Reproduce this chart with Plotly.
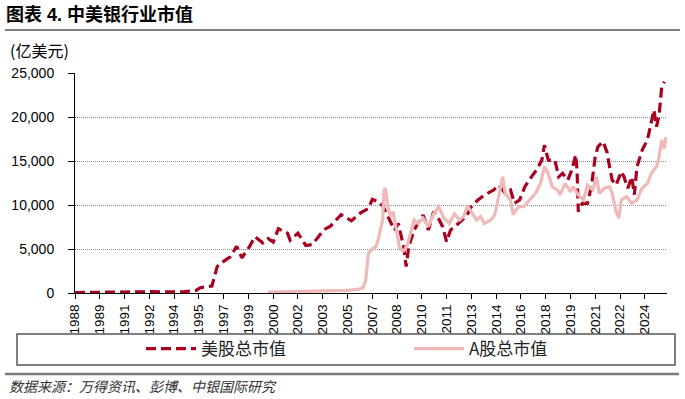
import plotly.graph_objects as go

# ---------------- data ----------------
us_dates = ["1988-01","1989-01","1990-01","1991-01","1992-01","1993-01","1994-01","1995-01","1995-10",
            "1996-01","1996-10","1997-02","1997-07","1997-12","1998-05","1998-09","1999-03","1999-07",
            "2000-01","2000-05","2000-09","2001-01","2001-08","2001-10","2002-04","2002-10","2003-03",
            "2003-12","2004-05","2005-01","2005-09","2006-04","2006-10","2007-01","2007-05","2007-09",
            "2008-01","2008-06","2008-09","2009-01","2009-03","2009-05","2009-09","2010-04","2010-08",
            "2010-12","2011-03","2011-07","2011-10","2012-01","2012-07","2013-01","2013-05","2013-10",
            "2014-03","2014-10","2015-02","2015-07","2015-11","2016-02","2016-06","2016-10","2017-04",
            "2017-07","2017-11","2018-01","2018-04","2018-09","2018-12","2019-03","2019-07","2019-10",
            "2020-01","2020-02","2020-03","2020-06","2020-10","2021-01","2021-04","2021-06","2021-10",
            "2022-01","2022-03","2022-05","2022-08","2022-12","2023-02","2023-05","2023-08","2023-10",
            "2023-12","2024-04","2024-08","2024-11","2025-01","2025-03","2025-05","2025-07","2025-09"]
us_values = [50,80,60,80,120,150,130,150,300,
             600,800,3000,3600,4100,5300,4000,5300,6400,
             5700,6200,5800,7300,6800,6000,6800,5400,5500,
             7200,7600,8900,8200,9100,9600,10650,10400,9900,
             8700,7150,7900,5260,3000,5260,7150,8860,7150,
             9240,8700,7540,5830,7150,7900,8700,9800,10570,
             11140,11700,12270,11330,11700,10190,10570,12080,13400,
             13980,15100,16800,15100,15100,13200,13600,12840,13980,
             15700,13980,9240,10190,10190,12080,15500,16600,17200,
             16000,14350,12840,12270,13800,13200,11900,13200,11170,
             14350,16250,17400,19470,20800,18900,20200,23440,24000]

a_dates = ["2000-05","2001-06","2002-06","2003-06","2004-06","2005-06","2006-03","2006-06","2006-08",
           "2006-10","2007-01","2007-04","2007-06","2007-09","2007-10","2007-11","2008-01","2008-03",
           "2008-05","2008-08","2008-10","2009-01","2009-04","2009-07","2009-09","2009-12","2010-04",
           "2010-08","2010-12","2011-04","2011-08","2011-12","2012-04","2012-08","2012-11","2013-02",
           "2013-06","2013-09","2013-12","2014-03","2014-08","2014-11","2015-03","2015-05","2015-07",
           "2015-11","2016-01","2016-05","2016-09","2017-02","2017-06","2017-10","2018-01","2018-04",
           "2018-07","2018-11","2019-01","2019-05","2019-09","2019-11","2020-03","2020-07","2020-10",
           "2021-02","2021-05","2021-07","2021-11","2022-03","2022-05","2022-08","2022-10","2022-12",
           "2023-04","2023-08","2023-12","2024-04","2024-08","2024-11","2025-03","2025-05","2025-07",
           "2025-09","2025-10"]
a_values = [100,150,180,200,250,300,450,600,1500,
            4500,5000,5300,6400,8300,11700,11900,9800,8700,
            9240,6780,5000,4800,5500,7150,8300,7900,8500,
            7540,9000,9800,8500,7900,9000,8300,8700,9900,
            9000,8300,8700,7900,8300,8900,11700,13200,11300,
            10570,8900,9800,9800,10570,11300,12460,14350,13600,
            12080,11700,11140,12460,11500,12080,11140,10570,12270,
            11700,13200,11330,11900,12080,11330,9240,8500,10570,
            10950,10190,10570,11900,12460,13600,14350,15500,17400,
            16400,17700]

tick_dates = ["1988-01","1989-08","1991-03","1992-10","1994-05","1995-12","1997-07","1999-02",
              "2000-09","2002-04","2003-11","2005-06","2007-01","2008-08","2010-03","2011-10",
              "2013-05","2014-12","2016-07","2018-02","2019-09","2021-04","2022-11","2024-06"]
tick_labels = ["1988","1989","1991","1992","1994","1995","1997","1999","2000","2002","2003","2005",
               "2007","2008","2010","2011","2013","2014","2016","2018","2019","2021","2022","2024"]

y_ticks = [0, 5000, 10000, 15000, 20000, 25000]

series_names = ["美股总市值", "A股总市值"]
title_text = "<b>图表 4. 中美银行业市值</b>"
unit_text = "(亿美元)"
source_text = "<i>数据来源：万得资讯、彭博、中银国际研究</i>"

# ---------------- figure ----------------
W, H = 685, 399
L, R, T, B = 75, 18, 73, 106
pw, ph = W - L - R, H - T - B

def px_x(x):
    return (x - L) / pw

def px_y(y):
    return (H - B - y) / ph

FONT = "Liberation Sans, Arial, Noto Sans CJK SC"

fig = go.Figure()
fig.add_trace(go.Scatter(x=us_dates, y=us_values, mode="lines", name=series_names[0],
                         legendwidth=203,
                         line=dict(color="#A8001E", width=3.2, dash="10px,5px")))
fig.add_trace(go.Scatter(x=a_dates, y=a_values, mode="lines", name=series_names[1],
                         legendwidth=110,
                         line=dict(color="#F0B9B9", width=3.2)))

fig.update_layout(
    width=W, height=H,
    margin=dict(l=L, r=R, t=T, b=B),
    paper_bgcolor="white", plot_bgcolor="white",
    font=dict(family=FONT, size=14, color="#000"),
    showlegend=True,
    legend=dict(orientation="h", x=px_x(141), xanchor="left", y=px_y(349), yanchor="middle",
                itemwidth=50,
                font=dict(family="Noto Sans CJK SC", size=17, color="#222"),
                bgcolor="rgba(0,0,0,0)", borderwidth=0),
)

fig.update_xaxes(
    type="date", range=["1988-01-01", "2025-11-01"],
    tickmode="array", tickvals=tick_dates, ticktext=tick_labels,
    tickangle=-90, tickfont=dict(size=13.5, family=FONT),
    showline=True, linecolor="#000", linewidth=1,
    ticks="outside", ticklen=5, tickcolor="#000",
    showgrid=False, zeroline=False,
)
fig.update_yaxes(
    range=[0, 25000], tickmode="array", tickvals=y_ticks, tickformat=",",
    tickfont=dict(size=14, family=FONT),
    showline=True, linecolor="#000", linewidth=1,
    ticks="outside", ticklen=6, tickcolor="#000",
    showgrid=True, gridcolor="#8a8a8a", gridwidth=1, griddash="1px,1px",
    zeroline=False, ticklabelstandoff=11,
)

shapes = [
    dict(type="line", xref="paper", yref="paper", x0=px_x(5), x1=px_x(680), y0=px_y(30), y1=px_y(30),
         line=dict(color="#7f7f7f", width=2)),
    dict(type="line", xref="paper", yref="paper", x0=px_x(5), x1=px_x(679), y0=px_y(374), y1=px_y(374),
         line=dict(color="#7a7a7a", width=2.5)),
    dict(type="rect", xref="paper", yref="paper", x0=px_x(17), x1=px_x(675), y0=px_y(365), y1=px_y(334),
         line=dict(color="#555", width=1.5), fillcolor="rgba(0,0,0,0)"),
]
fig.update_layout(shapes=shapes)

annotations = [
    dict(text=title_text, xref="paper", yref="paper", x=px_x(4), y=px_y(14), xanchor="left", yanchor="middle",
         showarrow=False, font=dict(family="Liberation Sans, Noto Sans CJK SC", size=18, color="#000")),
    dict(text=unit_text, xref="paper", yref="paper", x=px_x(8), y=px_y(50), xanchor="left", yanchor="middle",
         showarrow=False, font=dict(family="Noto Sans CJK SC", size=16, color="#000")),
    dict(text=source_text, xref="paper", yref="paper", x=px_x(7), y=px_y(386), xanchor="left", yanchor="middle",
         showarrow=False, font=dict(family="Noto Sans CJK SC", size=14, color="#333")),
]
fig.update_layout(annotations=annotations)

fig.write_html("out.html")
